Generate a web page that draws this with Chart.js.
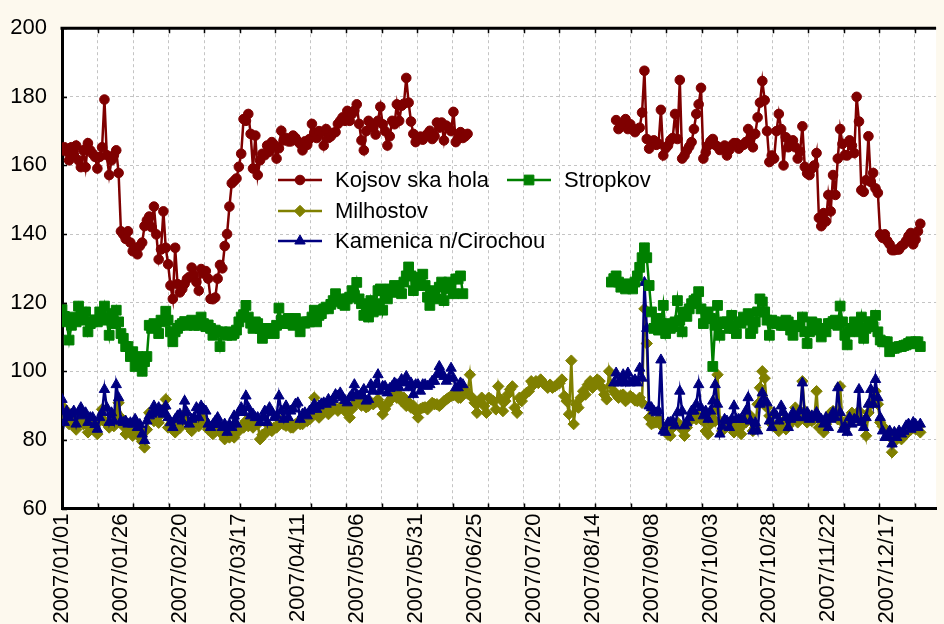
<!DOCTYPE html>
<html>
<head>
<meta charset="utf-8">
<script src="https://cdn.jsdelivr.net/npm/chart.js@4.4.1/dist/chart.umd.min.js"></script>
<style>
  html, body { margin: 0; padding: 0; background: #fdf9ee; }
  #wrap { width: 944px; height: 624px; position: relative; }
  canvas { display: block; }
</style>
</head>
<body>
<div id="wrap"><canvas id="chart" width="944" height="624"></canvas></div>
<script>
// Daily levels at four stations, 2007. Day index 0 = 2007/01/01.

const seriesNames = ['Kojsov ska hola', 'Stropkov', 'Milhostov', 'Kamenica n/Cirochou'];

const dateTicks = ['2007/01/01', '2007/01/26', '2007/02/20', '2007/03/17', '2007/04/11',
  '2007/05/06', '2007/05/31', '2007/06/25', '2007/07/20', '2007/08/14', '2007/09/08',
  '2007/10/03', '2007/10/28', '2007/11/22', '2007/12/17'];

const yTicks = [60, 80, 100, 120, 140, 160, 180, 200];

// Kojsovska hola: 01/01 – 06/22, then 08/24 – 12/31
const kojsovskaStart = [0, 235];
const kojsovskaFirst = [
  164.4, 165.3, 164, 161.5, 165.3, 163, 165.8, 161.5, 159.5, 164.4,
  159.5, 166.5, 164.4, 163.4, 162.5, 159.1, 162.5, 165.3, 179.2, 163,
  157.2, 161.5, 163, 164.4, 157.8, 140.8, 139.9, 138.6, 140.8, 137.5,
  135, 136, 134.1, 136.5, 137.5, 142.3, 144, 145.1, 142, 148,
  139.9, 132.6, 135.5, 146.6, 136, 131.2, 125, 121.1, 136, 125.4,
  123, 124, 125.5, 126.9, 127.5, 130.2, 128, 126, 123.5, 129.8,
  128.5, 129.2, 127, 121.1, 121, 121.5, 127, 131, 130, 136.5,
  140, 148, 154.8, 155.5, 156.2, 159.6, 163.4, 173.5, 173, 175,
  169.2, 159.1, 168.7, 157.2, 161.5, 163.4, 163, 165.8, 164, 166.8,
  166, 162, 165, 170.1, 167.3, 168, 167, 167, 168.7, 168,
  167, 166.3, 164.4, 167, 166, 167.7, 172.1, 169.5, 168, 170,
  169.7, 165.8, 170.6, 168, 168.5, 169.5, 169.7, 172.1, 173, 174,
  173, 175.9, 173, 175, 176, 177.8, 172.1, 167.3, 164.4, 170,
  173, 172, 171, 169, 173, 177.1, 172, 170, 165.8, 168.5,
  173, 172, 177.8, 173, 177.4, 178, 185.5, 178.3, 172.8, 169.2,
  166.8, 168, 168.4, 167.5, 168.5, 169.2, 170.1, 167.7, 168.5, 172.5,
  171, 172.5, 167.3, 171.6, 171, 170, 175.6, 166.8, 168, 169.7,
  168, 168.5, 169.2
];
const kojsovskaSecond = [
  173.2, 170.6, 171.5, 172, 173.5, 170.6, 172, 170.5, 169.7, 170.6,
  171, 175.4, 187.6, 167.7, 164.9, 167, 167.3, 166, 166.3, 176.2,
  162.9, 165, 165.8, 167.3, 168, 175, 167.7, 184.9, 162, 162.9,
  164.4, 165.5, 166.8, 170.6, 175, 177.8, 182.6, 162, 163.8, 165.8,
  167, 167.7, 166, 165.5, 164.5, 165, 165.8, 162.9, 164.5, 165.8,
  166.5, 166.5, 164.9, 165.8, 166, 166.8, 170.6, 168, 165.3, 169.2,
  174, 178.3, 184.6, 179, 170, 161, 162.9, 162, 170, 175,
  170.6, 160, 168.2, 165.3, 166.3, 167.3, 165.3, 162, 164, 171.4,
  159.6, 157.7, 157.2, 159.1, 160, 163.6, 144.7, 142.3, 146.1, 143.7,
  151.4, 146.6, 157.2, 151.4, 162, 170.6, 166.3, 163, 162.9, 167.3,
  165.8, 163.6, 180, 172.8, 152.8, 152.3, 155.7, 168.5, 155.2, 157.8,
  153.3, 152, 139.9, 138.9, 139.9, 138, 137, 135.3, 135.3, 135.5,
  135.5, 136.5, 137, 138, 139.4, 140.3, 137, 138.4, 140.8, 143
];

// Stropkov: 01/01 – 06/20, then 08/22 – 12/31
const stropkovStart = [0, 233];
const stropkovFirst = [
  118, 116, 114.4, 109.1, 113.4, 115.8, 114.4, 119, 116.8, 114.9,
  117.3, 111.5, 113.9, 114.4, 115, 114.4, 117.3, 115.5, 119, 114.9,
  110.5, 116.8, 113.9, 117.8, 114.4, 111, 109.6, 107.2, 107.2, 104.3,
  105.7, 101.4, 104.3, 103.3, 100, 102.8, 104.3, 113.4, 112.5, 113.9,
  113, 111, 114.9, 114.4, 117.5, 114.9, 111.5, 108.6, 111.5, 112.5,
  113.4, 113.9, 114.5, 113.4, 113.9, 114.9, 113.4, 113.8, 113.4, 115.8,
  113.9, 113, 113.5, 112.5, 110.5, 112, 111.5, 107.2, 111.5, 111,
  110.5, 111.5, 110.5, 111, 112, 114.4, 115.8, 116.5, 119.2, 115.8,
  114, 112.5, 114.4, 113.9, 112.5, 109.6, 111, 111.5, 112.5, 112,
  111, 113.4, 118.4, 114.9, 113.9, 114.5, 115.4, 113.9, 113.4, 115.4,
  113.9, 111.5, 114.4, 114, 114.4, 114.4, 115.8, 117.8, 114.4, 116.3,
  116.8, 118.2, 118.7, 118.2, 119.5, 120.6, 122.6, 120.2, 121.1, 119.7,
  119.2, 121.1, 121.6, 123.5, 122.1, 125.9, 121.1, 119.7, 116.3, 118.7,
  115.8, 120.6, 117.3, 119.7, 123.5, 124, 117.8, 122.1, 121.1, 124,
  123, 125, 123.5, 124.5, 122.6, 126, 127.8, 130.4, 127.8, 123.5,
  126.4, 125, 127.4, 128.3, 125, 121.6, 119.2, 122.1, 123.5, 121.1,
  124.5, 126, 120.6, 124, 126, 125, 122.6, 126.9, 126.9, 127.8,
  122.6
];
const stropkovSecond = [
  126, 127, 127.8, 126, 124.5, 125, 124, 125.5, 125, 124,
  126, 127.8, 130.3, 133.1, 136, 133.1, 125, 117.3, 112.5, 115.4,
  112, 113.9, 119.2, 111, 113.9, 112.5, 113, 114.4, 120.6, 114.9,
  111.5, 117.3, 116, 118.2, 119.7, 120.6, 121.1, 123.2, 118.2, 113.9,
  115.4, 117.3, 115.4, 101.4, 113.4, 119.2, 110.5, 113.9, 114.4, 114.4,
  112.5, 116.3, 112.5, 111, 114.4, 114, 115.8, 114.9, 116.8, 111,
  112.5, 114.4, 117.3, 121.1, 120.2, 117.3, 114.9, 110.5, 114.9, 114.4,
  113.9, 114.4, 113.4, 113.4, 114.9, 114.4, 112, 110.5, 113.4, 113,
  113, 115.8, 111.5, 108.1, 111.5, 114.4, 113, 113.9, 112, 110,
  112.5, 111.5, 113.9, 113.9, 114.5, 114.9, 113.4, 119, 114.4, 110.5,
  107.7, 111.5, 112.5, 114.4, 113, 111.5, 115.8, 109.6, 112.5, 114.4,
  114.4, 113, 116.3, 111.5, 109.1, 108.6, 108.6, 108.6, 105.7, 106.7,
  106.7, 107, 107.2, 107.2, 107.5, 107.7, 108.1, 108.6, 108, 108.6,
  108.6, 107.2
];

// Kamenica n/Cirochou: 01/01 – 06/20, then 08/23 – 12/31
const kamenicaStart = [0, 234];
const kamenicaFirst = [
  91.8, 85.1, 88.4, 86.5, 87.5, 88.4, 84.6, 87.9, 89.4, 87,
  87.9, 85.1, 86.5, 86.5, 84.5, 83.1, 86.5, 88, 94.7, 89.4,
  85.1, 87.9, 85.5, 96.1, 92.3, 85.5, 85.1, 85.5, 84.6, 85,
  84.6, 86, 83.6, 84.5, 81.7, 79.8, 85.5, 87, 87.5, 89.9,
  87.9, 89.4, 88.5, 87.5, 89.9, 86.5, 85, 83.6, 86, 87,
  87.5, 85.5, 91.3, 88, 84.6, 86, 86.5, 89.4, 86.5, 89.9,
  89, 88.4, 84.6, 83.6, 84.5, 85.5, 86.5, 84.6, 83.6, 84.6,
  82.2, 84.5, 83.6, 87, 84.6, 88, 89.4, 88, 92.8, 89.4,
  87, 87.5, 86.5, 86.5, 85.1, 86.5, 88.4, 85.1, 89.4, 87.9,
  86.5, 87, 92.8, 88.4, 86, 89.9, 86.5, 88.4, 89, 90.4,
  90.8, 86, 87.5, 87.9, 87, 88.4, 89, 90.4, 88.9, 89.9,
  90.5, 90.8, 90.4, 91.8, 91, 91.8, 93.2, 92.8, 93.7, 92.3,
  91.5, 90.8, 92.3, 93.2, 96.1, 93.2, 92.8, 93.5, 94.7, 91.3,
  91.8, 96.1, 94.2, 96.1, 99, 94.2, 95.6, 95.6, 93.7, 95,
  95.6, 96.6, 96.1, 95.2, 97.6, 96.6, 98.5, 95.2, 96.6, 93.2,
  96.1, 96.1, 94.2, 96.1, 96.1, 95.6, 96.1, 97.1, 97.1, 99,
  101.4, 99.5, 98.5, 97.1, 98, 100.9, 98, 95.2, 95.2, 96.6,
  96.1
];
const kamenicaSecond = [
  96.6, 99.5, 96.6, 97.5, 99, 96.6, 99.5, 96.6, 97.1, 97.5,
  96.6, 100.9, 98, 125.9, 112.5, 89.9, 89.4, 88.4, 87.9, 88.4,
  103.3, 82.6, 82.2, 85, 85.1, 85.5, 84.1, 87.9, 94.2, 88.4,
  84.1, 85, 86.5, 88.4, 88.4, 90.4, 96.1, 89.4, 87, 88.4,
  86, 88.4, 91.3, 96.1, 90.4, 81.7, 84, 86, 85.5, 83.6,
  86, 89.9, 86, 86, 86, 86, 88.4, 92.3, 85.5, 82.6,
  85, 82.6, 90.4, 93.7, 91.3, 90.8, 85.5, 83.6, 88, 87,
  85.5, 89.9, 88, 86.5, 83.6, 86, 88, 86.5, 86.5, 88.4,
  96.6, 86.5, 88, 86, 87, 86.5, 88, 86.5, 86, 84.6,
  86.5, 83.6, 86, 88, 86.5, 95.2, 88, 83.1, 84, 82.2,
  86.5, 84.6, 86, 86, 94.7, 85.1, 83.6, 86.5, 90.4, 94.7,
  90.4, 97.6, 92.3, 86.5, 82.6, 80.7, 80.7, 82.6, 78.8, 82.2,
  80.7, 82.6, 81.7, 82.5, 84.1, 84.6, 83.1, 85.1, 84.5, 83.6,
  84.6
];

// Milhostov: complete year
const milhostovStart = [0];
const milhostovYear = [
  89.9, 86, 88.4, 84.6, 85.5, 86.5, 83, 85, 86.5, 84.6,
  85.1, 82.2, 83.6, 84.6, 82.6, 81.7, 85.5, 88.9, 85.5, 84.6,
  83.6, 86, 84, 88, 90.8, 86.5, 84, 81.7, 83.6, 82.6,
  81.2, 83, 82, 80.7, 79.5, 77.8, 83, 87.9, 86.5, 85.5,
  86.5, 85, 87.5, 89, 91.8, 83.6, 84.5, 83, 82.2, 84.6,
  83.5, 85.5, 87.5, 85.6, 83.6, 82.6, 84.5, 85.5, 84, 86.5,
  86, 84.6, 83, 82.6, 81.7, 82.5, 83.6, 82.6, 81.5, 80.2,
  81.5, 80.7, 82, 80.7, 82.6, 82.6, 84, 83.6, 85.5, 84,
  85.1, 83.6, 84.6, 84.6, 80.2, 81.5, 81.7, 82.6, 84, 82.6,
  83.6, 83.6, 86, 85.1, 84.5, 84.1, 85.5, 83.6, 83.6, 84.5,
  85.1, 84.6, 84.6, 86, 85.5, 86, 88, 92.3, 88, 86.5,
  87.5, 88, 89, 87.5, 88.5, 88.9, 89.4, 88.5, 89.4, 90,
  88.4, 89.5, 86.5, 89, 90.4, 91, 92.3, 90, 91.3, 89.5,
  89.9, 91, 90.4, 91, 91.8, 90.5, 87.5, 89, 90.4, 91.5,
  92.3, 93, 92.3, 93.2, 91.3, 92.3, 89.9, 91, 89.4, 90,
  88.4, 86.5, 89, 89.4, 89.5, 88.9, 90, 90.8, 90.4, 90.4,
  89.9, 90.5, 91.3, 91.8, 92.3, 92.8, 93, 93.2, 92.3, 92.3,
  94.2, 94.7, 93.5, 99, 92.3, 90.8, 87.9, 91.3, 92.3, 89.9,
  87.9, 92.3, 91.8, 91.3, 88.9, 95.6, 91.8, 88.4, 91.3, 93.2,
  94.7, 95.6, 89.4, 87.9, 92.3, 91.3, 93, 93.7, 94.2, 97.1,
  96.1, 97.1, 96.6, 97.6, 96.6, 96, 95.2, 96.1, 95.2, 95.6,
  96.1, 96.5, 97.6, 92.8, 91.3, 87.5, 103.1, 84.6, 90.4, 89.4,
  92.3, 94.2, 93.2, 96.1, 97.1, 95.2, 96, 97.6, 97.1, 95.2,
  93.2, 91.8, 100, 96.1, 94.2, 93.2, 92.3, 93, 93.2, 91.3,
  92, 92.8, 92.3, 91.5, 91.3, 92.3, 90.8, 118.2, 108.1, 86.5,
  84.6, 85, 85.1, 86, 84.5, 83.6, 82.6, 81.5, 81.2, 83.6,
  84.5, 85.1, 84.1, 83, 81.2, 83.6, 85.5, 86, 86.5, 86,
  87, 86, 85.5, 82.6, 81.7, 84.6, 88, 85.5, 99, 85.5,
  82.6, 83.6, 84, 85.1, 84, 82.2, 83.6, 83, 81.7, 84.6,
  85.1, 86, 87, 82.6, 83.6, 90.4, 95.2, 100, 98, 89.4,
  87, 84.6, 84, 83.6, 82.6, 84, 85.5, 83.1, 84, 85.1,
  86.5, 89.4, 85.1, 86, 97.1, 88.4, 85.1, 86, 85.5, 86,
  94.2, 83.6, 84, 82.2, 84.6, 86, 87.9, 88.4, 87.5, 86,
  95.6, 85.1, 83.6, 85, 86.5, 87.9, 87, 86.5, 88.4, 86,
  85.5, 81.2, 87.9, 90.4, 90.8, 94.2, 90.4, 85.1, 84, 83.1,
  82.5, 82.2, 76.4, 79.5, 80.7, 82.2, 80.2, 81, 81.7, 82.6,
  83, 83.6, 83.1, 83.6, 82.2
];

// ---- helpers ----
const DAY_MS = 86400000;
function dayOf(label) {
  const [y, m, d] = label.split('/').map(Number);
  return (Date.UTC(y, m - 1, d) - Date.UTC(2007, 0, 1)) / DAY_MS;
}
function labelOf(day) {
  const dt = new Date(Date.UTC(2007, 0, 1) + Math.round(day) * DAY_MS);
  const p = n => String(n).padStart(2, '0');
  return dt.getUTCFullYear() + '/' + p(dt.getUTCMonth() + 1) + '/' + p(dt.getUTCDate());
}
// join measured stretches into one point list, breaking the line between them
function toPoints(starts, parts) {
  const pts = [];
  parts.forEach((vals, i) => {
    if (i > 0) pts.push({ x: starts[i] - 0.5, y: null });
    vals.forEach((v, k) => pts.push({ x: starts[i] + k, y: v }));
  });
  return pts;
}

const X_MAX = 370.7;     // day range shown across the plot
const GRID_STEP = 15.07; // spacing of the dotted vertical grid, in days

const FONT = "'Liberation Sans', Arial, Helvetica, sans-serif";
Chart.defaults.font.family = FONT;
Chart.defaults.color = '#000';

const styles = {
  kojsovska: { color: '#7f0000', point: 'circle', radius: 4.8 },
  stropkov:  { color: '#008000', point: 'rect', radius: 6.9 },
  milhostov: { color: '#808000', point: 'rectRot', radius: 5.7 },
  kamenica:  { color: '#000080', point: 'triangle', radius: 6 }
};

function makeSet(name, pts, st) {
  return {
    label: name,
    data: pts,
    borderColor: st.color,
    backgroundColor: st.color,
    pointBackgroundColor: st.color,
    pointBorderColor: st.color,
    pointStyle: st.point,
    pointRadius: st.radius,
    pointBorderWidth: 1,
    borderWidth: 2.5,
    tension: 0,
    spanGaps: false
  };
}

// first dataset is drawn on top
const datasets = [
  makeSet(seriesNames[0], toPoints(kojsovskaStart, [kojsovskaFirst, kojsovskaSecond]), styles.kojsovska),
  makeSet(seriesNames[1], toPoints(stropkovStart, [stropkovFirst, stropkovSecond]), styles.stropkov),
  makeSet(seriesNames[3], toPoints(kamenicaStart, [kamenicaFirst, kamenicaSecond]), styles.kamenica),
  makeSet(seriesNames[2], toPoints(milhostovStart, [milhostovYear]), styles.milhostov)
];

// white plot area on the cream page
const plotBackground = {
  id: 'plotBackground',
  beforeDraw(chart) {
    const { ctx, chartArea: a, width, height } = chart;
    ctx.save();
    ctx.fillStyle = '#fdf9ee';
    ctx.fillRect(0, 0, width, height);
    ctx.fillStyle = '#ffffff';
    ctx.fillRect(a.left, a.top, a.right - a.left, a.bottom - a.top);
    ctx.restore();
  }
};

// top frame line and the short inner tick marks
const frame = {
  id: 'frame',
  afterDraw(chart) {
    const { ctx, chartArea: a } = chart;
    const xs = chart.scales.xg, ys = chart.scales.y;
    ctx.save();
    ctx.strokeStyle = '#000';
    ctx.lineWidth = 3;
    ctx.beginPath();
    ctx.moveTo(a.left - 1.5, a.top);
    ctx.lineTo(a.right, a.top);
    ctx.stroke();
    ctx.lineWidth = 1.5;
    ctx.beginPath();
    xs.ticks.forEach(t => {
      const px = Math.round(xs.getPixelForValue(t.value)) + 0.5;
      ctx.moveTo(px, a.top);
      ctx.lineTo(px, a.top + 5);
      ctx.moveTo(px, a.bottom);
      ctx.lineTo(px, a.bottom - 5);
    });
    ys.ticks.forEach(t => {
      const py = Math.round(ys.getPixelForValue(t.value)) + 0.5;
      ctx.moveTo(a.left, py);
      ctx.lineTo(a.left + 5, py);
    });
    ctx.stroke();
    ctx.restore();
  }
};

// legend placed inside the plot
const legendRows = [
  { set: 0, x: 278, y: 180 },
  { set: 1, x: 507, y: 180 },
  { set: 3, x: 278, y: 211 },
  { set: 2, x: 278, y: 241 }
];
const insideLegend = {
  id: 'insideLegend',
  afterDraw(chart) {
    const ctx = chart.ctx;
    ctx.save();
    legendRows.forEach(r => {
      const ds = chart.data.datasets[r.set];
      ctx.strokeStyle = ds.borderColor;
      ctx.lineWidth = 2.5;
      ctx.beginPath();
      ctx.moveTo(r.x, r.y);
      ctx.lineTo(r.x + 44, r.y);
      ctx.stroke();
      ctx.fillStyle = ds.pointBackgroundColor;
      ctx.lineWidth = 1;
      Chart.helpers.drawPoint(ctx, {
        pointStyle: ds.pointStyle, radius: ds.pointRadius, rotation: 0, borderWidth: 1
      }, r.x + 22, r.y);
      ctx.fillStyle = '#000';
      ctx.font = '22px ' + FONT;
      ctx.textAlign = 'left';
      ctx.textBaseline = 'middle';
      ctx.fillText(ds.label, r.x + 57, r.y + 1);
    });
    ctx.restore();
  }
};

const gridColor = '#c4c4c4';

new Chart(document.getElementById('chart'), {
  type: 'line',
  data: { datasets },
  plugins: [plotBackground, frame, insideLegend],
  options: {
    responsive: false,
    animation: false,
    events: [],
    layout: { padding: { top: 23, left: 0, right: 0, bottom: 0 } },
    plugins: { legend: { display: false }, tooltip: { enabled: false } },
    scales: {
      x: {
        type: 'linear',
        position: 'bottom',
        min: 0,
        max: X_MAX,
        afterBuildTicks(scale) {
          scale.ticks = dateTicks.map(d => ({ value: dayOf(d) }));
        },
        afterFit(scale) { scale.height = 115.5; },
        grid: { display: false, drawTicks: false },
        border: { display: true, color: '#000', width: 3 },
        ticks: {
          autoSkip: false,
          minRotation: 90,
          maxRotation: 90,
          padding: 5,
          font: { size: 22 },
          color: '#000',
          callback: v => labelOf(v)
        }
      },
      xg: {
        type: 'linear',
        position: 'bottom',
        min: 0,
        max: X_MAX,
        afterBuildTicks(scale) {
          const t = [];
          for (let v = 0; v <= X_MAX; v += GRID_STEP) t.push({ value: v });
          scale.ticks = t;
        },
        afterFit(scale) { scale.height = 0; },
        ticks: { display: false },
        grid: { display: true, color: gridColor, lineWidth: 1, drawTicks: false },
        border: { display: false, dash: [3, 3] }
      },
      y: {
        type: 'linear',
        min: 60,
        max: 200,
        afterBuildTicks(scale) {
          scale.ticks = yTicks.map(v => ({ value: v }));
        },
        afterFit(scale) { scale.width = 62; },
        grid: { display: true, color: gridColor, lineWidth: 1, drawTicks: false },
        border: { display: true, color: '#000', width: 3, dash: [3, 3] },
        ticks: { padding: 15, font: { size: 22 }, color: '#000' }
      }
    }
  }
});
</script>
</body>
</html>
